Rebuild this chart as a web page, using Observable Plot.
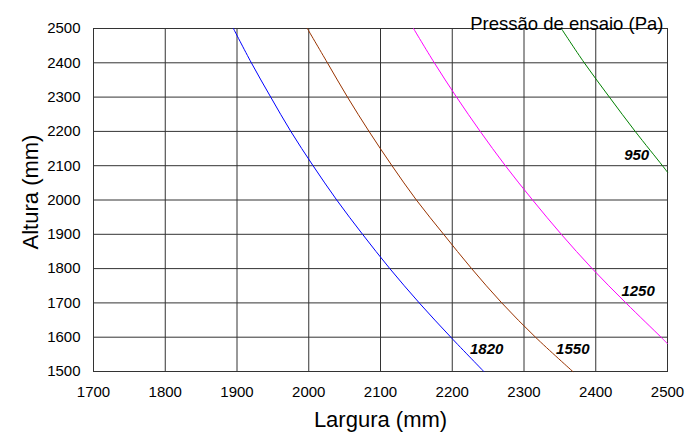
<!DOCTYPE html>
<html><head><meta charset="utf-8">
<script src="https://cdn.jsdelivr.net/npm/d3@7"></script>
<script src="https://cdn.jsdelivr.net/npm/@observablehq/plot@0.6"></script>
<style>body{margin:0;background:#fff} svg{font-family:"Liberation Sans",Arial,sans-serif}</style>
</head><body><div id="chart"></div>
<script>
const xTicks = [1700, 1800, 1900, 2000, 2100, 2200, 2300, 2400, 2500];
const yTicks = [1500, 1600, 1700, 1800, 1900, 2000, 2100, 2200, 2300, 2400, 2500];

const p1820W = [1895, 1920, 1947, 1975, 2006, 2039, 2075, 2113, 2154, 2198, 2244];
const p1820H = [2500, 2400, 2300, 2200, 2100, 2000, 1900, 1800, 1700, 1600, 1500];
const p1550W = [1998, 2026, 2054, 2084, 2116, 2150, 2188, 2227, 2269, 2316, 2368];
const p1550H = [2500, 2400, 2300, 2200, 2100, 2000, 1900, 1800, 1700, 1600, 1500];
const p1250W = [2146, 2175, 2206, 2239, 2274, 2312, 2352, 2395, 2442, 2491, 2500];
const p1250H = [2500, 2400, 2300, 2200, 2100, 2000, 1900, 1800, 1700, 1600, 1581];
const p950W = [2352, 2384, 2419, 2455, 2493, 2500];
const p950H = [2500, 2400, 2300, 2200, 2100, 2081];

const seriesNames = ["1820", "1550", "1250", "950"];
const seriesColors = ["#0000ff", "#993300", "#ff00ff", "#008000"];
const labelX = [2248, 2368, 2459, 2457];
const labelY = [1564, 1564, 1733, 2130];

const seriesW = [p1820W, p1550W, p1250W, p950W];
const seriesH = [p1820H, p1550H, p1250H, p950H];
const rows = seriesNames.flatMap((name, i) =>
  seriesW[i].map((w, j) => ({name, w, h: seriesH[i][j]})));
const labelRows = seriesNames.map((name, i) => ({name, x: labelX[i], y: labelY[i]}));

const chart = Plot.plot({
  width: 700,
  height: 441,
  marginLeft: 93,
  marginRight: 33,
  marginTop: 28,
  marginBottom: 70,
  style: {fontSize: "15px", fontFamily: "'Liberation Sans', Arial, sans-serif", background: "#fff"},
  x: {domain: [1700, 2500], ticks: xTicks, tickSize: 0, tickPadding: 15, tickFormat: d3.format("d"), label: null},
  y: {domain: [1500, 2500], ticks: yTicks, tickSize: 0, tickPadding: 13, tickFormat: d3.format("d"), label: null},
  color: {domain: seriesNames, range: seriesColors},
  marks: [
    Plot.ruleX(xTicks, {stroke: "#333", strokeWidth: 1}),
    Plot.ruleY(yTicks, {stroke: "#333", strokeWidth: 1}),
    Plot.frame({stroke: "#333"}),
    Plot.line(rows, {x: "w", y: "h", z: "name", stroke: "name", strokeWidth: 1, curve: "catmull-rom"}),
    Plot.text(labelRows, {x: "x", y: "y", text: "name", fontSize: 15, fontWeight: "bold", fontStyle: "italic", fill: "#000"}),
    Plot.text(["Pressão de ensaio (Pa)"], {frameAnchor: "top-right", textAnchor: "end", dx: -4, dy: -12, fontSize: 18.5, fill: "#000"}),
    Plot.text(["Largura (mm)"], {frameAnchor: "bottom", textAnchor: "middle", dy: 55, fontSize: 22, fill: "#000"}),
    Plot.text(["Altura (mm)"], {frameAnchor: "left", textAnchor: "middle", dx: -63, dy: -8, rotate: -90, fontSize: 22, fill: "#000"})
  ]
});
document.getElementById("chart").appendChild(chart);
</script>
</body></html>
